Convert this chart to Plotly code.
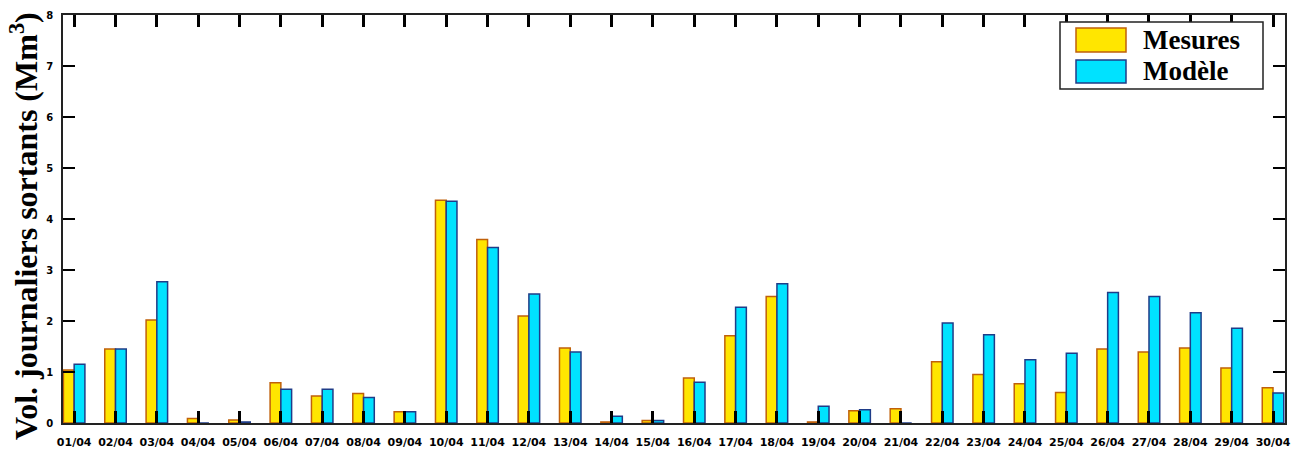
import plotly.graph_objects as go

days = [f"{d:02d}/04" for d in range(1, 31)]
mesures = [1.04, 1.45, 2.02, 0.09, 0.06, 0.79, 0.53, 0.58, 0.22, 4.37,
           3.60, 2.10, 1.47, 0.02, 0.05, 0.88, 1.71, 2.48, 0.02, 0.24,
           0.28, 1.20, 0.95, 0.77, 0.60, 1.45, 1.39, 1.47, 1.08, 0.69]
modele = [1.15, 1.45, 2.77, 0.0, 0.02, 0.66, 0.66, 0.50, 0.22, 4.35,
          3.44, 2.53, 1.39, 0.13, 0.05, 0.80, 2.27, 2.73, 0.33, 0.26,
          0.0, 1.96, 1.73, 1.24, 1.37, 2.56, 2.48, 2.16, 1.86, 0.59]
yticks = [0, 1, 2, 3, 4, 5, 6, 7, 8]
series_names = ["Mesures", "Modèle"]
y_title = "Vol. journaliers sortants (Mm<sup>3</sup>)"

YEL, YEL_LINE = "#FFE600", "#C0600A"
CYA, CYA_LINE = "#00E2FF", "#1F3C88"

fig = go.Figure()
fig.add_trace(go.Bar(x=days, y=mesures, name=series_names[0],
                     marker=dict(color=YEL, line=dict(color=YEL_LINE, width=1.5))))
fig.add_trace(go.Bar(x=days, y=modele, name=series_names[1],
                     marker=dict(color=CYA, line=dict(color=CYA_LINE, width=1.5))))

fig.update_layout(
    width=1307, height=450,
    margin=dict(l=63, r=22, t=15, b=27, autoexpand=False),
    plot_bgcolor="white", paper_bgcolor="white",
    barmode="group", bargap=0.48, bargroupgap=0,
    showlegend=False,
    xaxis=dict(
        type="category", range=[-0.27, 29.29], automargin=False,
        showline=True, linecolor="#222", linewidth=1.5, mirror="ticks",
        ticks="inside", ticklen=12, tickwidth=2.5, tickcolor="black",
        showgrid=False,
        tickfont=dict(family="DejaVu Sans", size=11, color="black", weight="bold"),
        ticklabelstandoff=8,
    ),
    yaxis=dict(
        range=[0, 8], tickvals=yticks, automargin=False,
        showline=True, linecolor="#222", linewidth=1.5, mirror="ticks",
        ticks="inside", ticklen=12, tickwidth=1.5, tickcolor="black",
        showgrid=False, zeroline=False,
        tickfont=dict(family="DejaVu Sans", size=10, color="black", weight="bold"),
        ticklabelstandoff=6,
    ),
)

PW, PH, PL, PB = 1222, 408, 63, 423


def px(xp):
    return (xp - PL) / PW


def py(yp):
    return (PB - yp) / PH


# Legend drawn as box + swatches + text
shapes = [
    dict(type="rect", xref="paper", yref="paper", layer="above",
         x0=px(1060), x1=px(1263), y0=py(89), y1=py(22),
         line=dict(color="#222", width=1.5), fillcolor="white"),
    dict(type="rect", xref="paper", yref="paper", layer="above",
         x0=px(1076), x1=px(1126), y0=py(52), y1=py(28),
         line=dict(color=YEL_LINE, width=1.5), fillcolor=YEL),
    dict(type="rect", xref="paper", yref="paper", layer="above",
         x0=px(1076), x1=px(1126), y0=py(83), y1=py(60),
         line=dict(color=CYA_LINE, width=1.5), fillcolor=CYA),
]
annotations = [
    dict(text=series_names[0], xref="paper", yref="paper", showarrow=False,
         x=px(1141), y=py(40), xanchor="left", yanchor="middle",
         font=dict(family="Liberation Serif", size=27, color="black", weight="bold")),
    dict(text=series_names[1], xref="paper", yref="paper", showarrow=False,
         x=px(1141), y=py(71), xanchor="left", yanchor="middle",
         font=dict(family="Liberation Serif", size=27, color="black", weight="bold")),
    dict(text=y_title, xref="paper", yref="paper", showarrow=False, textangle=-90,
         x=px(24), y=py(226), xanchor="center", yanchor="middle",
         font=dict(family="Liberation Serif", size=32, color="black", weight="bold")),
]
fig.update_layout(shapes=shapes, annotations=annotations)

fig.write_html("out.html")
